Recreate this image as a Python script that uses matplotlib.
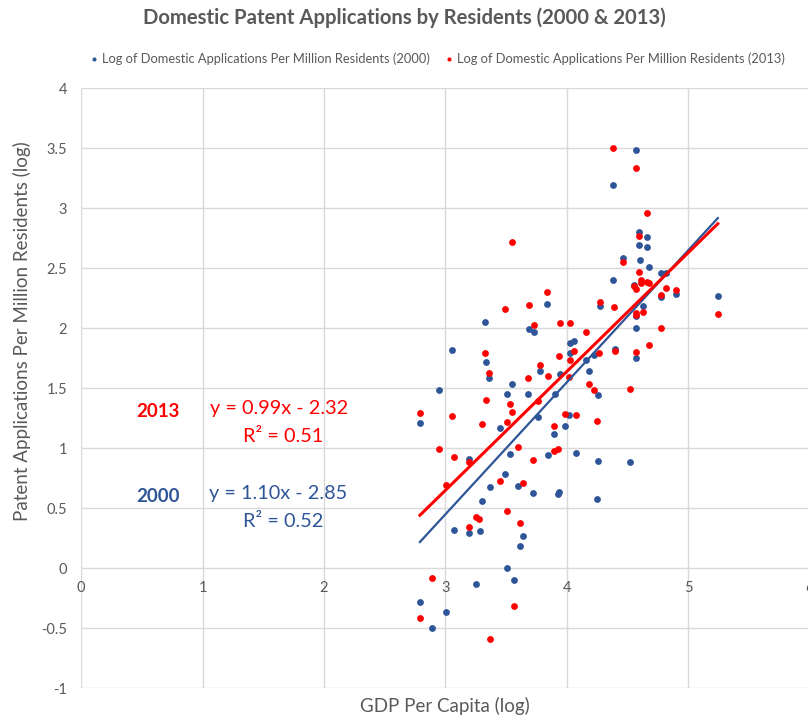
import matplotlib
matplotlib.use("Agg")
import matplotlib.pyplot as plt
import numpy as np

# Log GDP per capita / log domestic applications per million residents
gdp_2000 = [4.574, 4.378, 4.597, 4.659, 4.597, 4.659, 4.464, 4.604, 4.678, 4.772,
            4.813, 4.384, 4.552, 4.772, 4.902, 5.244, 3.834, 4.271, 4.629, 4.571,
            3.326, 3.689, 3.733, 4.571, 3.054, 3.332, 3.362, 4.024, 4.063, 4.030,
            4.162, 4.228, 4.398, 4.574, 3.780, 3.941, 4.186, 4.260, 3.549, 3.510,
            3.683, 3.901, 3.763, 4.016, 3.453, 3.983, 3.895, 3.843, 4.076, 3.532,
            3.191, 4.260, 4.524, 3.494, 3.368, 3.595, 3.722, 3.928, 3.939, 3.299,
            4.252, 3.071, 3.197, 3.282, 3.642, 3.612, 3.510, 3.568, 3.252, 2.790,
            3.007, 2.892, 2.950, 2.790]
apps_2000 = [3.483, 3.194, 2.800, 2.763, 2.694, 2.678, 2.583, 2.572, 2.508, 2.464,
             2.464, 2.405, 2.361, 2.258, 2.289, 2.272, 2.202, 2.186, 2.186, 2.100,
             2.055, 1.994, 1.972, 2.000, 1.819, 1.717, 1.583, 1.880, 1.897, 1.797,
             1.736, 1.780, 1.828, 1.750, 1.647, 1.619, 1.642, 1.444, 1.536, 1.455,
             1.453, 1.455, 1.261, 1.275, 1.167, 1.189, 1.119, 0.942, 0.963, 0.950,
             0.908, 0.894, 0.883, 0.788, 0.680, 0.689, 0.628, 0.619, 0.636, 0.564,
             0.578, 0.322, 0.292, 0.308, 0.269, 0.183, 0.003, -0.100, -0.128, -0.278,
             -0.361, -0.500, 1.486, 1.214]

gdp_2013 = [4.378, 4.574, 4.657, 3.549, 4.597, 4.464, 4.597, 4.612, 4.607, 4.662,
            4.681, 4.552, 4.568, 4.813, 4.902, 4.772, 3.834, 3.686, 3.494, 4.271,
            4.387, 4.571, 4.571, 4.629, 4.772, 3.733, 3.945, 4.030, 4.162, 5.244,
            3.326, 3.362, 4.060, 3.939, 4.024, 4.263, 4.401, 4.574, 4.675, 3.780,
            3.843, 4.016, 4.186, 4.228, 4.524, 3.681, 3.332, 3.535, 3.763, 3.551,
            3.054, 3.986, 4.076, 3.299, 3.510, 3.898, 4.252, 3.595, 3.892, 3.925,
            3.071, 3.191, 3.722, 3.453, 3.642, 3.510, 3.252, 3.279, 3.197, 3.612,
            3.568, 3.365, 2.889, 2.790, 2.790, 2.950, 3.007]
apps_2013 = [3.505, 3.333, 2.963, 2.719, 2.772, 2.555, 2.469, 2.402, 2.375, 2.389,
             2.378, 2.352, 2.325, 2.336, 2.319, 2.280, 2.302, 2.197, 2.163, 2.219,
             2.175, 2.125, 2.111, 2.138, 2.005, 2.030, 2.047, 2.042, 1.972, 2.122,
             1.797, 1.625, 1.811, 1.769, 1.736, 1.792, 1.808, 1.803, 1.861, 1.694,
             1.605, 1.597, 1.533, 1.486, 1.494, 1.589, 1.403, 1.369, 1.392, 1.300,
             1.269, 1.283, 1.275, 1.200, 1.219, 1.189, 1.231, 1.008, 0.980, 0.992,
             0.930, 0.888, 0.905, 0.730, 0.714, 0.478, 0.425, 0.411, 0.347, 0.380,
             -0.311, -0.592, -0.083, -0.417, 1.292, 0.994, 0.694]

# trendline coefficients as printed on the chart
fit_2000 = (1.10, -2.85)
fit_2013 = (0.99, -2.32)

blue = "#2E5597"
red = "#FF0000"
grey = "#595959"

plt.rcParams["font.family"] = ["Lato", "DejaVu Sans"]

fig = plt.figure(figsize=(8.08, 7.19), dpi=100)
ax = fig.add_axes([0.1005, 0.0427, 0.9015, 0.8345])

ax.scatter(gdp_2000, apps_2000, s=24, color=blue, linewidths=0, zorder=3,
           label="Log of Domestic Applications Per Million Residents (2000)")
ax.scatter(gdp_2013, apps_2013, s=24, color=red, linewidths=0, zorder=3,
           label="Log of Domestic Applications Per Million Residents (2013)")

# trendlines across the data range
xs = np.array([min(gdp_2000), max(gdp_2000)])
ax.plot(xs, fit_2000[0] * xs + fit_2000[1], color=blue, lw=1.6, zorder=4)
xs = np.array([min(gdp_2013), max(gdp_2013)])
ax.plot(xs, fit_2013[0] * xs + fit_2013[1], color=red, lw=2.2, zorder=5)

ax.set_xlim(0, 6)
ax.set_ylim(-1, 4)
ax.set_xticks(range(0, 7))
ax.set_yticks(np.arange(-1, 4.01, 0.5))
ax.set_yticklabels(["-1", "-0.5", "0", "0.5", "1", "1.5", "2", "2.5", "3", "3.5", "4"])
ax.grid(True, color="#D9D9D9", lw=1)
ax.set_axisbelow(True)
for s in ax.spines.values():
    s.set_visible(False)
# x axis crosses at y = 0 like in Excel
ax.spines["bottom"].set_position(("data", 0))
ax.tick_params(length=0, labelsize=10.5, labelcolor=grey)
ax.tick_params(axis="x", pad=9)
ax.tick_params(axis="y", pad=10)

fig.text(0.551, 0.018, "GDP Per Capita (log)", ha="center", va="center",
         fontsize=13.5, color=grey)
fig.text(0.027, 0.54, "Patent Applications Per Million Residents (log)", ha="center",
         va="center", rotation=90, fontsize=13.5, color=grey)
fig.text(0.5, 0.975, "Domestic Patent Applications by Residents (2000 & 2013)",
         ha="center", va="center", fontsize=14.6, fontweight="bold", color=grey)

fig.legend(loc="center", bbox_to_anchor=(0.54, 0.919), ncol=2, frameon=False,
           fontsize=9.3, labelcolor=grey, markerscale=0.6, handletextpad=0.1,
           columnspacing=1.0, handlelength=1.0)

# equation labels
ax.text(0.45, 1.31, "2013", color=red, fontsize=13.5, fontweight="bold", va="center")
ax.text(1.06, 1.33, "y = 0.99x - 2.32", color=red, fontsize=14.3, va="center")
ax.text(1.33, 1.1, "R² = 0.51", color=red, fontsize=14.3, va="center")
ax.text(0.45, 0.6, "2000", color=blue, fontsize=13.5, fontweight="bold", va="center")
ax.text(1.05, 0.62, "y = 1.10x - 2.85", color=blue, fontsize=14.3, va="center")
ax.text(1.33, 0.39, "R² = 0.52", color=blue, fontsize=14.3, va="center")

fig.savefig("out.png", dpi=100)
